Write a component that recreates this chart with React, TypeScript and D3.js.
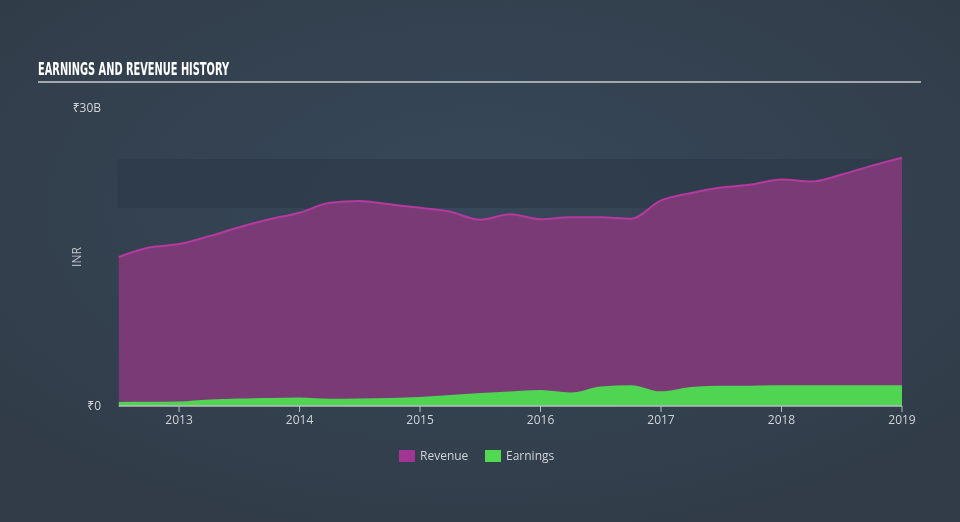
import React from "react";
import * as d3 from "d3";

const dates: number[] = [
  2012.5, 2012.75, 2013.0, 2013.25, 2013.5, 2013.75, 2014.0, 2014.25, 2014.5,
  2014.75, 2015.0, 2015.25, 2015.5, 2015.75, 2016.0, 2016.25, 2016.5, 2016.75,
  2017.0, 2017.25, 2017.5, 2017.75, 2018.0, 2018.25, 2018.5, 2018.75, 2019.0,
];
const revenue: number[] = [
  15.0, 15.95, 16.3, 17.1, 18.0, 18.8, 19.45, 20.45, 20.65, 20.3, 19.95, 19.55,
  18.75, 19.3, 18.8, 19.0, 19.0, 18.85, 20.7, 21.45, 22.0, 22.3, 22.8, 22.6,
  23.3, 24.2, 25.0,
];
const earnings: number[] = [
  0.4, 0.42, 0.45, 0.65, 0.75, 0.8, 0.85, 0.72, 0.75, 0.8, 0.9, 1.1, 1.3, 1.45,
  1.6, 1.35, 1.96, 2.1, 1.48, 1.92, 2.03, 2.05, 2.08, 2.1, 2.08, 2.08, 2.1,
];
const yearTicks: number[] = [2013, 2014, 2015, 2016, 2017, 2018, 2019];
const yTickValues: number[] = [0, 30];
const yTickLabels: string[] = ["₹0", "₹30B"];
const legendItems = [
  { label: "Revenue", color: "#a03594" },
  { label: "Earnings", color: "#50d850" },
];

const W = 960;
const H = 522;
const x0 = 117;
const x1 = 902;

export default function App() {
  const x = d3.scaleLinear().domain([2012.485, 2019.0]).range([x0, x1]);
  const y = d3.scaleLinear().domain([0, 30]).range([406, 108]);

  const revData = dates.map((d, i) => ({ d, v: revenue[i] }));
  const earnData = dates.map((d, i) => ({ d, v: earnings[i] }));

  const area = d3
    .area<{ d: number; v: number }>()
    .x((p) => x(p.d))
    .y0(y(0))
    .y1((p) => y(p.v))
    .curve(d3.curveMonotoneX);
  const line = d3
    .line<{ d: number; v: number }>()
    .x((p) => x(p.d))
    .y((p) => y(p.v))
    .curve(d3.curveMonotoneX);

  const dataStart = x(dates[0]);
  const dataEnd = x(dates[dates.length - 1]);

  return (
    <div style={{ position: "fixed", left: 0, top: 0 }}>
      <svg width={W} height={H} style={{ display: "block" }}>
        <defs>
          <radialGradient id="bg" cx="50%" cy="40%" r="65%">
            <stop offset="0%" stopColor="#37485a" />
            <stop offset="100%" stopColor="#313c48" />
          </radialGradient>
        </defs>
        <rect x={0} y={0} width={W} height={H} fill="url(#bg)" />
        <text
          x={38}
          y={75}
          fill="#ffffff"
          fontFamily="'Liberation Sans Narrow', 'DejaVu Sans Condensed', sans-serif"
          fontWeight="bold"
          fontSize={17}
          textLength={191}
          lengthAdjust="spacingAndGlyphs"
        >
          EARNINGS AND REVENUE HISTORY
        </text>
        <rect x={38} y={81} width={883} height={2} fill="#a4a8ae" />

        <rect x={x0} y={159} width={x1 - x0} height={49} fill="#2e3b4a" opacity={0.8} />

        <path d={area(revData) || ""} fill="#7a3a76" />
        <path d={line(revData) || ""} fill="none" stroke="#b43aa0" strokeWidth={2} />
        <path d={area(earnData) || ""} fill="#50d552" />

        <line x1={dataStart} x2={dataEnd} y1={406} y2={406} stroke="#b8bcc2" strokeWidth={1.5} />
        {yearTicks.map((t) => (
          <g key={t}>
            <line x1={x(t)} x2={x(t)} y1={406} y2={412} stroke="#b8bcc2" strokeWidth={1} />
            <text
              x={x(t)}
              y={424}
              textAnchor="middle"
              fill="#d0d3d7"
              fontFamily="'Open Sans', 'Noto Sans', sans-serif"
              fontSize={12}
            >
              {t}
            </text>
          </g>
        ))}
        {yTickValues.map((v, i) => (
          <text
            key={v}
            x={101}
            y={y(v) + 4}
            textAnchor="end"
            fill="#d0d3d7"
            fontFamily="'Open Sans', 'Noto Sans', sans-serif"
            fontSize={12}
          >
            {yTickLabels[i]}
          </text>
        ))}
        <text
          transform={`translate(81,257) rotate(-90)`}
          textAnchor="middle"
          fill="#c4c8cd"
          fontFamily="'Open Sans', 'Noto Sans', sans-serif"
          fontSize={12}
        >
          INR
        </text>

        {legendItems.map((it, i) => {
          const lx = i === 0 ? 399 : 485;
          return (
            <g key={it.label}>
              <rect x={lx} y={450} width={16} height={12} fill={it.color} />
              <text
                x={lx + 21}
                y={460}
                fill="#d0d3d7"
                fontFamily="'Open Sans', 'Noto Sans', sans-serif"
                fontSize={12}
              >
                {it.label}
              </text>
            </g>
          );
        })}
      </svg>
    </div>
  );
}
